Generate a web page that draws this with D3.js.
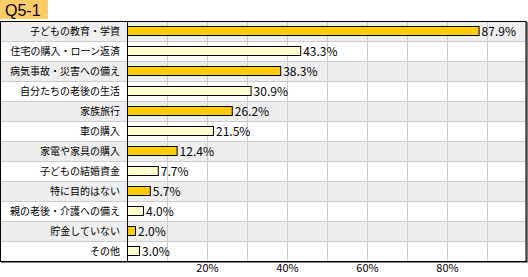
<!DOCTYPE html>
<html><head><meta charset="utf-8">
<script src="https://cdn.jsdelivr.net/npm/d3@7"></script>
<style>body{margin:0;background:#fff}svg{display:block}</style>
</head><body><svg id="c" width="528" height="277"></svg>
<script>
const title = "Q5-1";
const categories = ["子どもの教育・学資","住宅の購入・ローン返済","病気事故・災害への備え","自分たちの老後の生活","家族旅行","車の購入","家電や家具の購入","子どもの結婚資金","特に目的はない","親の老後・介護への備え","貯金していない","その他"];
const values = [87.9,43.3,38.3,30.9,26.2,21.5,12.4,7.7,5.7,4.0,2.0,3.0];
const tickValues = [20,40,60,80];
const gridValues = [10,20,30,40,50,60,70,80,90];

const svg = d3.select("#c");
const font = "'Noto Sans CJK JP', 'Noto Sans', sans-serif";
const L = 0, T = 21, R = 526, B = 261, P = 127;
const x = d3.scaleLinear().domain([0,100]).range([P, P+400]);
const y = d3.scaleBand().domain(categories).range([T, B]);

// title
svg.append("rect").attr("x",0).attr("y",0).attr("width",48).attr("height",19).attr("fill","#FFCC66");
svg.append("text").attr("x",5).attr("y",16).attr("font-family","'Liberation Sans', Arial, sans-serif")
  .attr("font-size",16).attr("fill","#000").text(title);

// row bands
svg.selectAll("rect.band").data(categories).join("rect")
  .attr("x",L).attr("y",d=>y(d)).attr("width",R-L).attr("height",y.bandwidth())
  .attr("fill",(d,i)=>i%2===0?"#EEEEEE":"#FFFFFF");
// row separators
svg.selectAll("line.sep").data(categories.slice(1)).join("line")
  .attr("x1",L).attr("x2",R).attr("y1",d=>y(d)+0.5).attr("y2",d=>y(d)+0.5)
  .attr("stroke","#CCCCCC");
// grid
svg.selectAll("line.grid").data(gridValues).join("line")
  .attr("x1",d=>Math.round(x(d))+0.5).attr("x2",d=>Math.round(x(d))+0.5)
  .attr("y1",T).attr("y2",B).attr("stroke","#CCCCCC");
// label divider
svg.append("line").attr("x1",P+0.5).attr("x2",P+0.5).attr("y1",T).attr("y2",B).attr("stroke","#000");
// frame
svg.append("rect").attr("x",0.5).attr("y",T+0.5).attr("width",R-0.5).attr("height",B-T).attr("fill","none").attr("stroke","#000");
svg.append("line").attr("x1",R+1).attr("x2",R+1).attr("y1",T+1).attr("y2",B+1).attr("stroke","#000");
svg.append("line").attr("x1",1).attr("x2",R+1.5).attr("y1",B+1).attr("y2",B+1).attr("stroke","#000");

// bars
svg.selectAll("rect.bar").data(values).join("rect")
  .attr("x",x(0)+0.5).attr("y",(d,i)=>y(categories[i])+5.5)
  .attr("width",d=>x(d)-x(0)).attr("height",9)
  .attr("fill",(d,i)=>i%2===0?"#FFCC00":"#FFFFCC").attr("stroke","#000");
// value labels
svg.selectAll("text.val").data(values).join("text")
  .attr("x",d=>x(d)+3).attr("y",(d,i)=>y(categories[i])+y.bandwidth()/2+4.5)
  .attr("font-family",font).attr("font-size",12).attr("fill","#000")
  .text(d=>d.toFixed(1)+"%");
// category labels
svg.selectAll("text.cat").data(categories).join("text")
  .attr("x",120).attr("y",d=>y(d)+y.bandwidth()/2+4)
  .attr("text-anchor","end").attr("font-family",font).attr("font-size",10)
  .attr("fill","#000")
  .text(d=>d);
// x axis tick labels
const ax = svg.append("g").attr("transform",`translate(0,${B})`)
  .call(d3.axisBottom(x).tickValues(tickValues).tickSize(0).tickFormat(d=>d+"%"));
ax.select(".domain").remove();
ax.selectAll("text").attr("font-family",font).attr("font-size",11).attr("fill","#000");
</script></body></html>
